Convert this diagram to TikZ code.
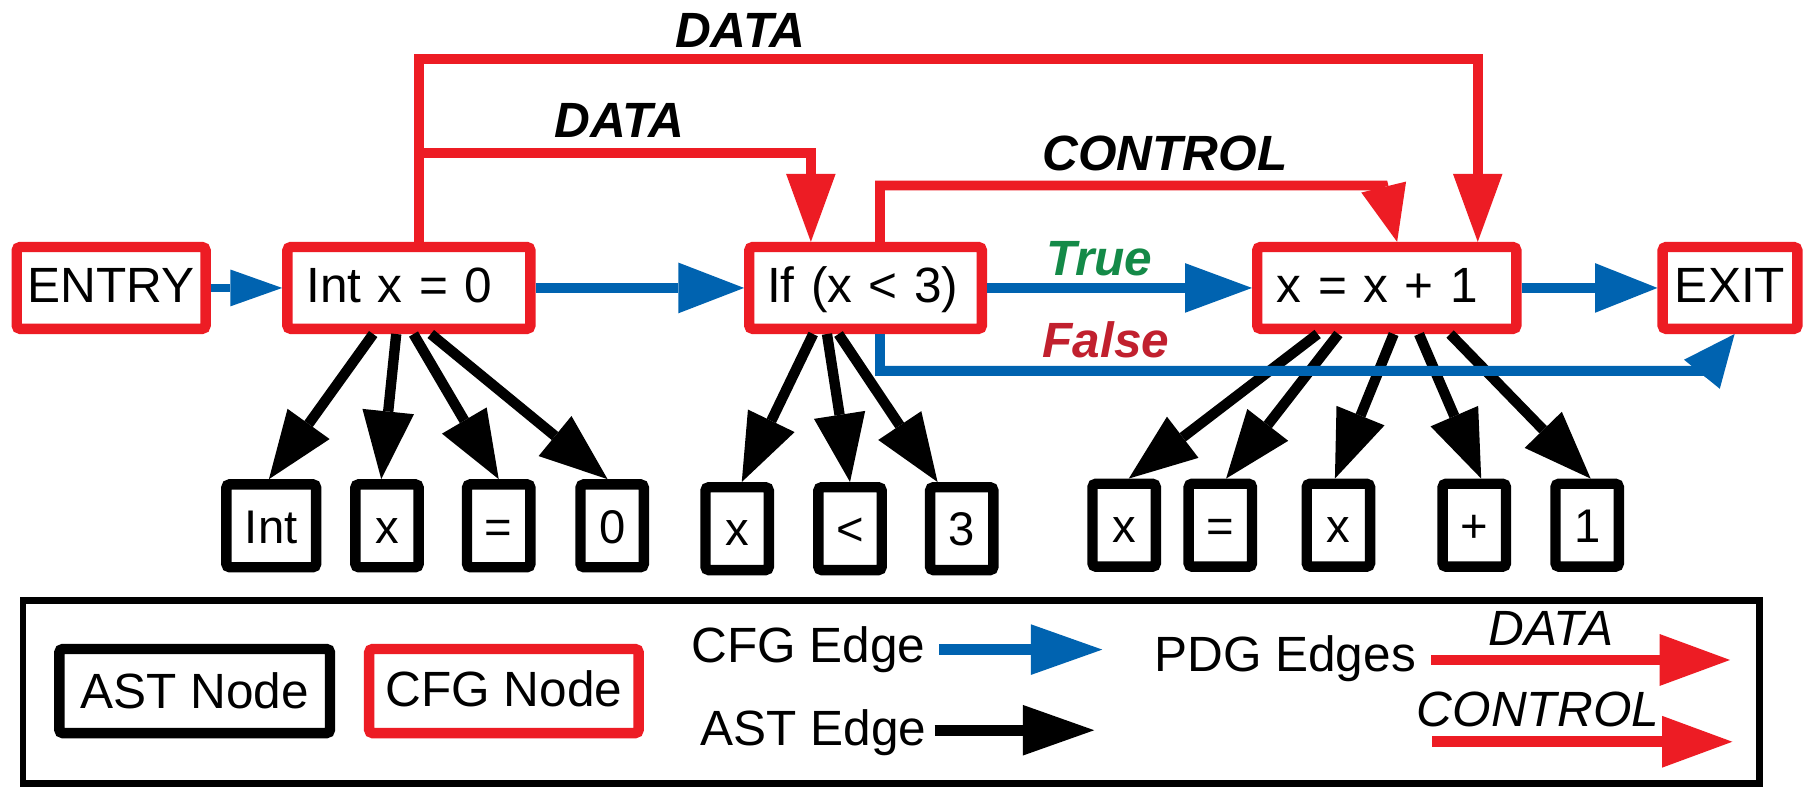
\documentclass[tikz,border=0pt]{standalone}
\usepackage{fontspec}
\setmainfont{Liberation Sans}
\usetikzlibrary{arrows.meta}

\definecolor{cfgred}{RGB}{237,28,36}
\definecolor{cfgblue}{RGB}{0,99,176}
\definecolor{truegreen}{RGB}{20,138,72}
\definecolor{falsered}{RGB}{193,32,46}

\tikzset{
  cfgbox/.style={draw=cfgred, line width=9pt, rounded corners=3pt, fill=white,
    minimum height=71pt, inner ysep=0pt, text height=31pt, text depth=5pt,
    anchor=west, font=\fontsize{43}{50}\selectfont},
  astbox/.style={draw=black, line width=9pt, rounded corners=3pt, fill=white,
    minimum width=55pt, minimum height=72pt, inner sep=0pt, text height=30pt,
    text depth=0pt, font=\fontsize{41}{48}\selectfont},
  edgelabel/.style={inner sep=0pt, anchor=base west,
    font=\fontsize{43}{50}\selectfont\bfseries\itshape},
  legendtext/.style={inner sep=0pt, anchor=base west, font=\fontsize{43}{50}\selectfont},
  head/.style 2 args={-{Triangle[length=#1pt,width=#2pt,line width=0pt]}},
  cfgflow/.style={draw=cfgblue, line width=8.5pt},
  pdgflow/.style={draw=cfgred, line width=8.5pt},
  astflow/.style={draw=black, line width=9pt, head={59}{45}},
}

\begin{document}
\begin{tikzpicture}[x=1pt,y=-1pt]
\fill[white] (0,0) rectangle (1568,684);
\useasboundingbox (0,0) rectangle (1568,684);

% control flow graph nodes
\node[cfgbox, minimum width=164pt, inner xsep=0pt] (entry) at (10,250) {ENTRY};
\node[cfgbox, text width=178pt, inner xsep=16.5pt, align=left] (int) at (245,250) {Int x = 0};
\node[cfgbox, text width=171pt, inner xsep=15.5pt, align=left] (iff) at (646,250) {If (x < 3)};
\node[cfgbox, text width=191pt, inner xsep=17pt, align=left] (xinc) at (1087,250) {x = x + 1};
\node[cfgbox, minimum width=117pt, inner xsep=0pt] (exit) at (1439,250) {EXIT};

% syntax tree leaves
\node[astbox, minimum width=78pt] (a1) at (235.5,456.5) {Int};
\node[astbox] (a2) at (336,456.5) {x};
\node[astbox] (a3) at (433,456.5) {=};
\node[astbox] (a4) at (531.5,456.5) {0};
\node[astbox] (b1) at (640,459) {x};
\node[astbox] (b2) at (738,459) {<};
\node[astbox] (b3) at (835,459) {3};
\node[astbox] (c1) at (976,456) {x};
\node[astbox] (c2) at (1059.5,456) {=};
\node[astbox] (c3) at (1162,456) {x};
\node[astbox] (c4) at (1280,456) {+};
\node[astbox] (c5) at (1378,456) {1};

% syntax tree edges
\draw[astflow] ([xshift=-31pt]int.south) -- ([xshift=-2pt]a1.north);
\draw[astflow] ([xshift=-11pt]int.south) -- ([xshift=-5pt]a2.north);
\draw[astflow] ([xshift=4pt]int.south) -- (a3.north);
\draw[astflow] ([xshift=19pt]int.south) -- ([xshift=-4pt]a4.north);
\draw[astflow] ([xshift=-45.5pt]iff.south) -- ([xshift=4pt]b1.north);
\draw[astflow] ([xshift=-33.5pt]iff.south) -- (b2.north);
\draw[astflow] ([xshift=-23.5pt]iff.south) -- ([xshift=-21pt]b3.north);
\draw[astflow] ([xshift=-60pt]xinc.south) -- ([xshift=4pt]c1.north);
\draw[astflow] ([xshift=-42pt]xinc.south) -- ([xshift=5pt]c2.north);
\draw[astflow] ([xshift=6pt]xinc.south) -- ([xshift=-3pt]c3.north);
\draw[astflow] ([xshift=28pt]xinc.south) -- ([xshift=6pt]c4.north);
\draw[astflow] ([xshift=55pt]xinc.south) -- ([xshift=3pt]c5.north);

% control flow edges
\draw[cfgflow, line width=7pt, head={45}{32}] (entry) -- (int);
\draw[cfgflow, head={57}{44}] (int) -- (iff);
\draw[cfgflow, head={58}{43}] (iff) -- (xinc);
\draw[cfgflow, head={54}{43}] (xinc) -- (exit);
\coordinate (fcorner) at (1480,322);
\draw[cfgflow, head={45}{40}] ([xshift=12.5pt]iff.south) |- (fcorner) -- ([xshift=4pt]exit.south);

% program dependence edges
\coordinate (dtop) at (800,51);
\coordinate (dmid) at (500,133);
\coordinate (ccorner) at (1201,161);
\draw[pdgflow, head={59}{43}] ([xshift=9pt]int.north) |- (dtop) -| ([xshift=79pt]xinc.north);
\draw[pdgflow, head={59}{43}] ([xshift=9pt]int.north) |- (dmid) -| ([xshift=-47.5pt]iff.north);
\draw[pdgflow, head={49}{40}] ([xshift=12.5pt]iff.north) |- (ccorner) -- ([xshift=9pt]xinc.north);

% edge labels
\node[edgelabel] (ldata1) at (586,41) {DATA};
\node[edgelabel] (ldata2) at (481,119) {DATA};
\node[edgelabel] (lcontrol) at (905,148) {CONTROL};
\node[edgelabel, text=truegreen] (ltrue) at (908,239) {True};
\node[edgelabel, text=falsered] (lfalse) at (905,310) {False};

% legend
\draw[line width=6pt] (20,521) rectangle (1528,680);
\node[astbox, minimum width=235pt, minimum height=73pt, text height=31pt,
  font=\fontsize{43}{50}\selectfont] (kast) at (169,600) {AST Node};
\node[cfgbox, anchor=center, minimum width=234pt, minimum height=73pt, inner xsep=0pt] (kcfg) at (437.5,600) {CFG Node};
\node[legendtext] (kcfgedge) at (600,575) {CFG Edge};
\node[legendtext] (kastedge) at (608,647) {AST Edge};
\node[legendtext] (kpdg) at (1002,583) {PDG Edges};
\node[legendtext, font=\fontsize{43}{50}\selectfont\itshape] (kdata) at (1292,560) {DATA};
\node[legendtext, font=\fontsize{43}{50}\selectfont\itshape] (kcontrol) at (1230,631) {CONTROL};

\coordinate (kcfgtip) at (957,564);
\coordinate (kasttip) at (950,634);
\coordinate (kdatatip) at (1502,573);
\coordinate (kctltip) at (1504,644);
\draw[cfgflow, line width=9.5pt, head={62}{44}] ([xshift=12pt]kcfgedge.east |- kcfgtip) -- (kcfgtip);
\draw[draw=black, line width=9.5pt, head={62}{44}] ([xshift=7pt]kastedge.east |- kasttip) -- (kasttip);
\draw[pdgflow, line width=9.5pt, head={61}{45}] ([xshift=13pt]kpdg.east |- kdatatip) -- (kdatatip);
\draw[pdgflow, line width=9.5pt, head={61}{45}] ([xshift=14pt]kpdg.east |- kctltip) -- (kctltip);
\end{tikzpicture}
\end{document}
